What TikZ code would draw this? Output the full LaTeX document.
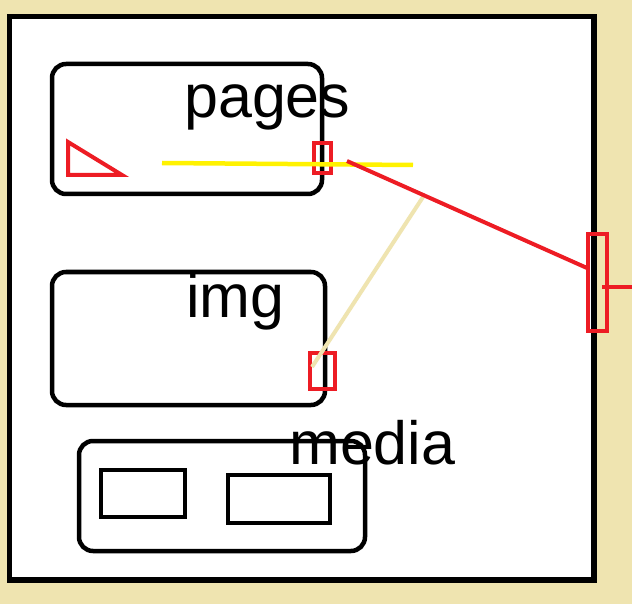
\documentclass[tikz,border=0pt]{standalone}
\usepackage{fontspec}
\setmainfont{Liberation Sans}
\definecolor{paintred}{RGB}{237,28,36}
\definecolor{paintyellow}{RGB}{255,242,0}
\definecolor{paintbeige}{RGB}{239,228,176}
\begin{document}
\begin{tikzpicture}[x=1pt,y=-1pt,
box/.style={draw,line width=4.5pt,rounded corners=14pt,inner sep=0pt},
plainbox/.style={draw,line width=4.5pt,inner sep=0pt},
port/.style={draw=paintred,line width=4pt,inner sep=0pt},
lbl/.style={inner sep=0pt,anchor=base west,font=\fontsize{61}{72}\selectfont}]

\fill[paintbeige](0,0)rectangle(632,604);
\useasboundingbox(0,0)rectangle(632,604);
\draw[line width=5.5pt,fill=white](9.5,16.5)rectangle(594,580);

\node[box,minimum width=270pt,minimum height=130pt](pages)at(187,129){};
\node[box,minimum width=273pt,minimum height=133pt](img)at(188.5,338.5){};
\node[box,minimum width=286pt,minimum height=110pt](media)at(222,496){};
\node[plainbox,minimum width=84pt,minimum height=47pt](mediaa)at(143,493.5){};
\node[plainbox,minimum width=102pt,minimum height=48pt](mediab)at(279,499){};

\node[lbl](pageslbl)at(184,118){pages};
\node[lbl](imglbl)at(186,317){img};
\node[lbl](medialbl)at(289,464){media};

\draw[paintred,line width=4pt](68,142)--(68,175)--(122,175)--cycle;

\node[port,minimum width=17pt,minimum height=30pt](pagesport)at(322.5,158){};
\node[port,minimum width=25pt,minimum height=36pt](imgport)at(322.5,371){};
\node[port,minimum width=19pt,minimum height=97pt](outport)at(597.5,282.5){};

\coordinate(ya)at(162,163);
\coordinate(yb)at(413,165);
\coordinate(ra)at(347,161);
\coordinate(rb)at(587,268);
\coordinate(ba)at(312,367);
\coordinate(bb)at(423,197);
\coordinate(oa)at(602,287);
\coordinate(ob)at(632,287);

\draw[-,paintyellow,line width=4.5pt](ya)--(yb);
\draw[-,paintbeige,line width=4pt](ba)--(bb);
\draw[-,paintred,line width=4pt](ra)--(rb);
\draw[-,paintred,line width=4pt](oa)--(ob);
\end{tikzpicture}
\end{document}
